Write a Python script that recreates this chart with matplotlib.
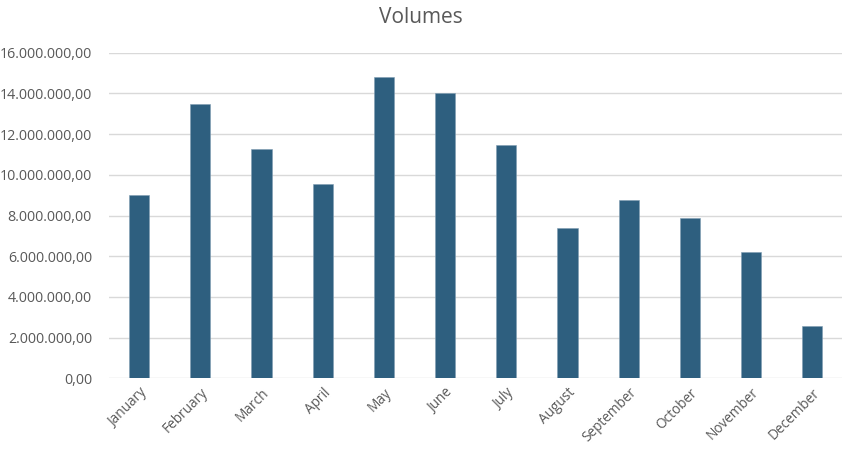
import matplotlib
matplotlib.use("Agg")
import matplotlib.pyplot as plt
from matplotlib.ticker import FuncFormatter, MultipleLocator

months = ["January", "February", "March", "April", "May", "June", "July",
          "August", "September", "October", "November", "December"]
volumes = [8990000, 13480000, 11280000, 9560000, 14790000, 14030000, 11450000,
           7390000, 8760000, 7870000, 6210000, 2570000]

text_color = "#595959"
bar_color = "#2E5F7F"
grid_color = "#D9D9D9"

plt.rcParams["font.family"] = ["Open Sans", "DejaVu Sans"]

fig = plt.figure(figsize=(8.42, 4.51), dpi=100)
ax = fig.add_axes([0.129, 0.161, 0.872, 0.722])

x = range(len(months))
ax.bar(x, volumes, width=0.33, color=bar_color, edgecolor="#7F9DB3",
       linewidth=0.4, zorder=3)

ax.set_xlim(-0.5, len(months) - 0.5)
ax.set_ylim(0, 16000000)
ax.yaxis.set_major_locator(MultipleLocator(2000000))


def eu_fmt(v, pos):
    s = f"{v:,.2f}"
    return s.replace(",", "X").replace(".", ",").replace("X", ".")


ax.yaxis.set_major_formatter(FuncFormatter(eu_fmt))
ax.grid(axis="y", color=grid_color, linewidth=1.0, zorder=0)
for sp in ax.spines.values():
    sp.set_visible(False)

ax.set_xticks(list(x))
ax.set_xticklabels(months, rotation=45, ha="right", rotation_mode="anchor",
                   fontsize=9.8, color=text_color)
ax.tick_params(axis="both", length=0, labelcolor=text_color)
ax.tick_params(axis="y", labelsize=10.3, pad=12)
ax.tick_params(axis="x", pad=5)

fig.text(0.5, 0.962, "Volumes", ha="center", va="center",
         fontsize=15, color=text_color)

fig.savefig("out.png", dpi=100)
